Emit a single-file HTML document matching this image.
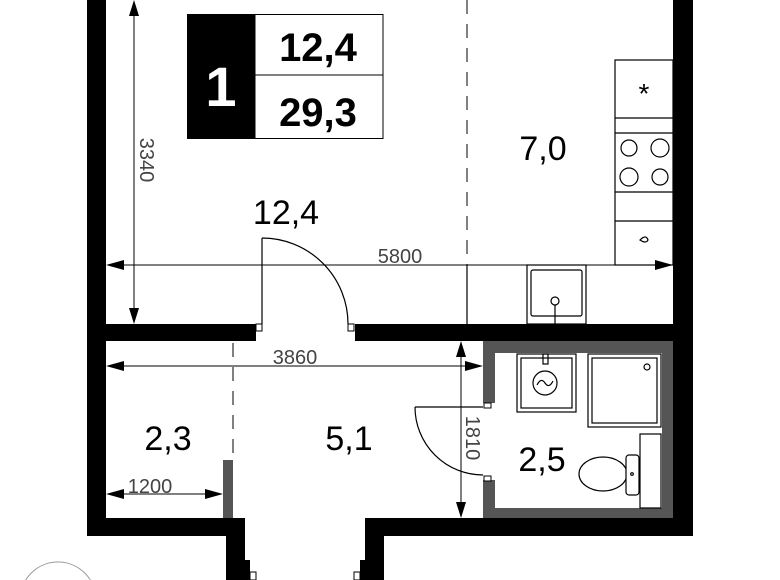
<!DOCTYPE html>
<html><head><meta charset="utf-8"><style>
html,body{margin:0;padding:0;background:#fff;width:780px;height:580px;overflow:hidden;}
svg{display:block;}
text{font-family:"Liberation Sans","DejaVu Sans",sans-serif;}
</style></head><body>
<svg width="780" height="580" viewBox="0 0 780 580" xmlns="http://www.w3.org/2000/svg">
<g fill="#000">
<rect x="87" y="0" width="19" height="536"/>
<rect x="87" y="518" width="158" height="18"/>
<rect x="226" y="536" width="19" height="44"/>
<rect x="245" y="560" width="5" height="20"/>
<rect x="106" y="324" width="150" height="17"/>
<rect x="355" y="324" width="338" height="17"/>
<rect x="673" y="0" width="20" height="536"/>
<rect x="365" y="518" width="328" height="18"/>
<rect x="365" y="536" width="19" height="44"/>
<rect x="360" y="560" width="5" height="20"/>
</g>
<g fill="#555">
<rect x="483" y="341" width="190" height="12"/>
<rect x="483" y="508" width="190" height="10"/>
<rect x="662" y="341" width="11" height="177"/>
<rect x="483" y="341" width="12" height="62"/>
<rect x="483" y="480" width="12" height="38"/>
<rect x="223" y="460" width="10" height="58"/>
</g>
<g fill="#fff" stroke="#000" stroke-width="1">
<rect x="256" y="324" width="6" height="7"/>
<rect x="348" y="324" width="6" height="7"/>
<rect x="484" y="403" width="7" height="5"/>
<rect x="484" y="476" width="7" height="5"/>
<rect x="250" y="572" width="6" height="8"/>
<rect x="354" y="572" width="6" height="8"/>
</g>
<g stroke="#000" stroke-width="1" stroke-dasharray="14,10" fill="none">
<line x1="467" y1="0" x2="467" y2="265"/>
<line x1="233" y1="343" x2="233" y2="460"/>
</g>
<g stroke="#000" stroke-width="1" fill="none">
<line x1="134" y1="2" x2="134" y2="322"/>
<line x1="108" y1="265" x2="671" y2="265"/>
<line x1="108" y1="366" x2="481" y2="366"/>
<line x1="108" y1="494" x2="221" y2="494"/>
<line x1="461" y1="343" x2="461" y2="516"/>
</g>
<g fill="#000">
<polygon points="134,0 129,16 139,16"/><polygon points="134,324 129,308 139,308"/>
<polygon points="106,265 124,260 124,270"/><polygon points="673,265 655,260 655,270"/>
<polygon points="106,366 124,361 124,371"/><polygon points="483,366 465,361 465,371"/>
<polygon points="106,494 124,489 124,499"/><polygon points="223,494 205,489 205,499"/>
<polygon points="461,341 456,357 466,357"/><polygon points="461,518 456,502 466,502"/>
</g>
<g fill="#444" font-size="20">
<text x="400" y="263" text-anchor="middle">5800</text>
<text x="295" y="364" text-anchor="middle">3860</text>
<text x="150" y="493" text-anchor="middle">1200</text>
<text transform="translate(140,160) rotate(90)" text-anchor="middle">3340</text>
<text transform="translate(466,438) rotate(90)" text-anchor="middle">1810</text>
</g>
<g stroke="#000" stroke-width="1.2" fill="none">
<line x1="262" y1="238" x2="262" y2="324"/>
<path d="M262,238 A86,86 0 0 1 348,324"/>
<line x1="415" y1="407" x2="483" y2="407"/>
<path d="M415,407 A68,68 0 0 0 483,475"/>
</g>
<g stroke="#000" stroke-width="1.2" fill="none">
<rect x="615" y="60" width="58" height="205"/>
<line x1="615" y1="118" x2="673" y2="118"/>
<line x1="615" y1="133" x2="673" y2="133"/>
<line x1="615" y1="192" x2="673" y2="192"/>
<line x1="615" y1="221" x2="673" y2="221"/>
<circle cx="629" cy="148" r="8"/><circle cx="660" cy="148" r="9"/>
<circle cx="629" cy="177" r="9"/><circle cx="660" cy="177" r="8"/>
<path d="M640,240 q6,-6 8,0 q-2,4 -8,0z"/>
<line x1="467" y1="265" x2="467" y2="324"/>
<rect x="527" y="265" width="59" height="59"/>
<rect x="531" y="270" width="51" height="46" rx="2"/>
<line x1="555" y1="305" x2="555" y2="324"/>
<circle cx="555" cy="301" r="4" fill="#fff"/>
</g>
<text x="644" y="103" font-size="28" text-anchor="middle">*</text>
<g stroke="#000" stroke-width="1.2" fill="none">
<rect x="517" y="354" width="59" height="58"/>
<rect x="521" y="358" width="51" height="50"/>
<circle cx="545" cy="383" r="12"/>
<path d="M537,385 q4,-8 8,-2 q4,6 8,-2"/>
<rect x="543" y="354" width="5" height="10"/>
<rect x="588" y="354" width="73" height="73"/>
<rect x="592" y="358" width="65" height="65"/>
<circle cx="647" cy="367" r="3"/>
<rect x="640" y="434" width="21" height="74"/>
<ellipse cx="603" cy="474" rx="24" ry="17"/>
<rect x="626" y="455" width="13" height="40" rx="3" fill="#fff"/>
<circle cx="632" cy="474" r="1.3"/>
</g>
<rect x="187" y="14" width="68" height="125" fill="#000"/>
<rect x="255" y="14.5" width="128" height="124" fill="none" stroke="#000" stroke-width="1"/>
<line x1="255" y1="75" x2="383" y2="75" stroke="#000" stroke-width="1"/>
<text x="221" y="106" fill="#fff" font-size="56" font-weight="bold" text-anchor="middle">1</text>
<text x="318" y="61" font-size="40" font-weight="bold" text-anchor="middle">12,4</text>
<text x="318" y="126" font-size="40" font-weight="bold" text-anchor="middle">29,3</text>
<g font-size="34" text-anchor="middle">
<text x="286" y="224">12,4</text>
<text x="543" y="160">7,0</text>
<text x="168" y="450">2,3</text>
<text x="349" y="450">5,1</text>
<text x="542" y="471">2,5</text>
</g>
<circle cx="58" cy="600" r="38" fill="none" stroke="#999" stroke-width="1"/>
</svg>
</body></html>
